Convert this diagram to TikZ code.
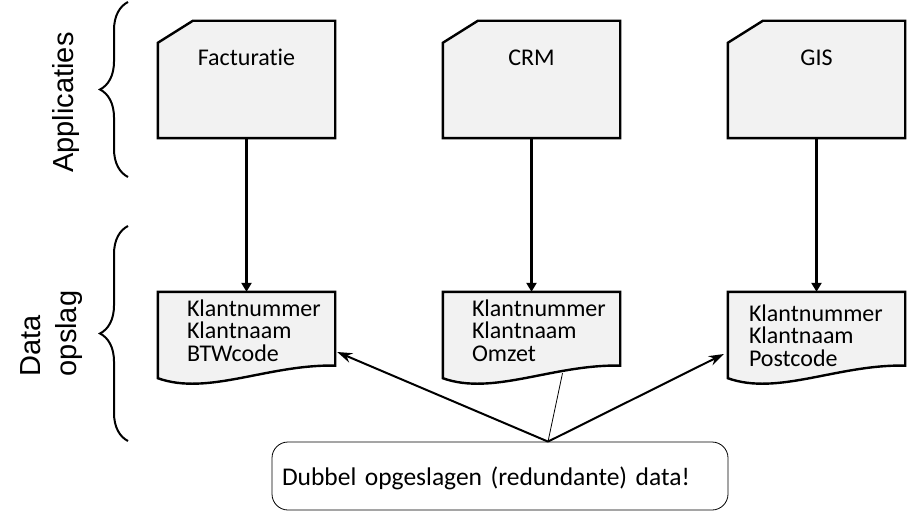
\documentclass[tikz,border=0pt]{standalone}
\usepackage{fontspec}
\setmainfont{Carlito}[Ligatures=NoCommon,RawFeature={-clig;-dlig}]
\newfontfamily\arialfont{Liberation Sans}
\usetikzlibrary{arrows.meta,calc,decorations.pathreplacing}
\definecolor{boxgray}{gray}{0.95}
\tikzset{
  appbox/.style={minimum width=177pt,minimum height=117pt,inner sep=0pt},
  docbox/.style={minimum width=177pt,minimum height=86pt,inner sep=0pt},
  shapeline/.style={draw,line width=2.4pt,fill=boxgray},
  appname/.style={font=\fontsize{24}{28}\selectfont,anchor=base},
  fields/.style={font=\fontsize{24}{22.3}\selectfont,align=left,
                 anchor=north west,inner sep=0pt},
  sidelbl/.style={font=\arialfont\fontsize{29}{36}\selectfont,rotate=90,
                  align=left},
  grp/.style={decorate,decoration={brace,amplitude=28pt},line width=2pt},
  feed/.style={-{Triangle[length=9pt,width=10pt]},line width=2.8pt},
  fl/.style={-{Stealth[length=15pt,width=10pt]},line width=2pt},
  callout/.style={draw,line width=0.8pt,rounded corners=16pt,
                  minimum width=456pt,minimum height=68pt,text width=436pt,
                  inner xsep=10pt,align=left,text depth=0pt,
                  font=\fontsize{25.5}{30}\selectfont},
}
\begin{document}
\begin{tikzpicture}[x=1pt,y=1pt]
  \useasboundingbox (0,0) rectangle (910,515);
  % The three applications, each with its corner cut off.
  \node[appbox] (fact) at (246.5,435.5) {};
  \node[appbox] (crm) at (531.5,435.5) {};
  \node[appbox] (gis) at (816.5,435.5) {};
  \path[shapeline] ($(fact.north west)+(0,-22)$) -- ($(fact.north west)+(35,0)$)
       -- (fact.north east) -- (fact.south east) -- (fact.south west) -- cycle;
  \path[shapeline] ($(crm.north west)+(0,-22)$) -- ($(crm.north west)+(35,0)$)
       -- (crm.north east) -- (crm.south east) -- (crm.south west) -- cycle;
  \path[shapeline] ($(gis.north west)+(0,-22)$) -- ($(gis.north west)+(35,0)$)
       -- (gis.north east) -- (gis.south east) -- (gis.south west) -- cycle;
  \node[appname] at ($(fact.north)+(0,-45)$) {Facturatie};
  \node[appname] at ($(crm.north)+(0,-45)$) {CRM};
  \node[appname] at ($(gis.north)+(0,-45)$) {GIS};
  % Their data, as documents with a wavy foot.
  \node[docbox] (fdoc) at (246.5,180) {};
  \node[docbox] (cdoc) at (531.5,180) {};
  \node[docbox] (gdoc) at (816.5,180) {};
  \path[shapeline] (fdoc.south west) -- (fdoc.north west) -- (fdoc.north east)
       -- ($(fdoc.south east)+(0,12.6)$)
       .. controls ($(fdoc.south west)+(110,14)$) and ($(fdoc.south west)+(50,-18)$)
       .. (fdoc.south west) -- cycle;
  \path[shapeline] (cdoc.south west) -- (cdoc.north west) -- (cdoc.north east)
       -- ($(cdoc.south east)+(0,12.6)$)
       .. controls ($(cdoc.south west)+(110,14)$) and ($(cdoc.south west)+(50,-18)$)
       .. (cdoc.south west) -- cycle;
  \path[shapeline] (gdoc.south west) -- (gdoc.north west) -- (gdoc.north east)
       -- ($(gdoc.south east)+(0,12.6)$)
       .. controls ($(gdoc.south west)+(110,14)$) and ($(gdoc.south west)+(50,-18)$)
       .. (gdoc.south west) -- cycle;
  \node[fields] at ($(fdoc.north west)+(29,-8)$) {Klantnummer\\Klantnaam\\BTWcode};
  \node[fields] at ($(cdoc.north west)+(29,-8)$) {Klantnummer\\Klantnaam\\Omzet};
  \node[fields] at ($(gdoc.north west)+(21,-13)$) {Klantnummer\\Klantnaam\\Postcode};
  \draw[feed] (fact.south) -- (fdoc.north);
  \draw[feed] (crm.south) -- (cdoc.north);
  \draw[feed] (gis.south) -- (gdoc.north);
  % The remark and what it points at.
  \node[callout] (note) at (500,39) {Dubbel opgeslagen (redundante) data!};
  \coordinate (apex) at ($(note.north)+(48,0)$);
  \draw[fl] (apex) -- ($(fdoc.east)+(2,-17)$);
  \draw[fl] (apex) -- ($(gdoc.west)+(-4,-19)$);
  \draw[line width=0.8pt] (apex) -- ($(cdoc.south)+(31,5)$);
  % The two layers.
  \coordinate (apptop) at (128,513);
  \coordinate (appbot) at (128,338);
  \coordinate (datatop) at (128,289);
  \coordinate (databot) at (128,74);
  \draw[grp] (appbot) -- (apptop);
  \draw[grp] (databot) -- (datatop);
  \node[sidelbl] (applbl) at (66,412.5) {Applicaties};
  \node[sidelbl] (datalbl) at (52,181.5) {Data\\opslag};
\end{tikzpicture}
\end{document}
